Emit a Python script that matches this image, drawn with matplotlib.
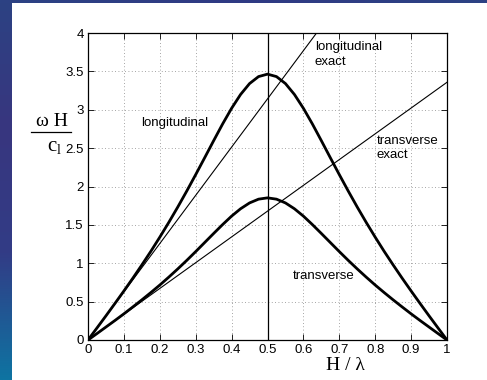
import numpy as np
import matplotlib
matplotlib.use("Agg")
import matplotlib.pyplot as plt
from matplotlib.colors import LinearSegmentedColormap

# Data
x_vals = [i * 0.025 for i in range(41)]
longitudinal_half = [0, 0.157, 0.315, 0.476, 0.639, 0.806, 0.978, 1.155, 1.340, 1.532,
                     1.732, 1.940, 2.155, 2.375, 2.597, 2.815, 3.019, 3.199, 3.341, 3.432, 3.464]
transverse_half = [0, 0.084, 0.169, 0.254, 0.341, 0.431, 0.523, 0.618, 0.716, 0.819,
                   0.926, 1.037, 1.152, 1.270, 1.388, 1.504, 1.614, 1.710, 1.786, 1.835, 1.852]
longitudinal = longitudinal_half + longitudinal_half[-2::-1]
transverse = transverse_half + transverse_half[-2::-1]
exact_x = [0, 1]
longitudinal_exact = [0, 6.283]
transverse_exact = [0, 3.358]
x_ticks = [0, 0.1, 0.2, 0.3, 0.4, 0.5, 0.6, 0.7, 0.8, 0.9, 1]
x_tick_labels = ["0", "0.1", "0.2", "0.3", "0.4", "0.5", "0.6", "0.7", "0.8", "0.9", "1"]
y_ticks = [0, 0.5, 1, 1.5, 2, 2.5, 3, 3.5, 4]
y_tick_labels = ["0", "0.5", "1", "1.5", "2", "2.5", "3", "3.5", "4"]

plt.rcParams['font.family'] = ['Liberation Sans', 'DejaVu Sans']

W, H = 487, 380
fig = plt.figure(figsize=(W / 100, H / 100), dpi=100)
fig.patch.set_facecolor('white')

# Blue decorative strips
grad = np.linspace(0, 1, 256).reshape(-1, 1)
cmap = LinearSegmentedColormap.from_list('slide', ['#2c4283', '#38367f', '#323c86', '#0e74a2'])
sax = fig.add_axes([0, 0, 12 / W, 1])
sax.imshow(grad, aspect='auto', cmap=cmap, extent=[0, 1, 0, 1], origin='upper')
sax.axis('off')
tcmap = LinearSegmentedColormap.from_list('top', ['#2c4283', '#303a84', '#2c4283'])
tax = fig.add_axes([0, 1 - 3 / H, 1, 3 / H])
tax.imshow(np.linspace(0, 1, 256).reshape(1, -1), aspect='auto', cmap=tcmap)
tax.axis('off')

ax = fig.add_axes([88 / W, 1 - 340 / H, (447 - 88) / W, (340 - 33) / H])
ax.plot(x_vals, longitudinal, color='black', lw=2.0)
ax.plot(x_vals, transverse, color='black', lw=2.0)
ax.plot(exact_x, longitudinal_exact, color='black', lw=0.8)
ax.plot(exact_x, transverse_exact, color='black', lw=0.8)
ax.axvline(0.5, color='black', lw=0.9)

ax.set_xlim(0, 1)
ax.set_ylim(0, 4)
ax.set_xticks(x_ticks)
ax.set_xticklabels(x_tick_labels)
ax.set_yticks(y_ticks)
ax.set_yticklabels(y_tick_labels)
ax.grid(True, color='#888888', linestyle=(0, (1, 3)), lw=0.6)
ax.tick_params(direction='in', top=True, right=True, length=4, width=0.6,
               labelsize=9.5, pad=3)
for s in ax.spines.values():
    s.set_linewidth(0.9)

ax.text(0.148, 2.83, 'longitudinal', fontsize=9.5, va='center', ha='left')
ax.text(0.571, 0.83, 'transverse', fontsize=9.5, va='center', ha='left')
ax.text(0.632, 3.72, 'longitudinal\nexact', fontsize=9.5, va='center', ha='left', linespacing=1.3)
ax.text(0.805, 2.5, 'transverse\nexact', fontsize=9.5, va='center', ha='left', linespacing=1.3)

serif = ['Liberation Serif', 'DejaVu Serif']
fig.text(345 / W, 1 - 366 / H, 'H / λ', fontsize=14, ha='center', va='center', family=serif)
fig.text(52 / W, 1 - 121 / H, 'ω H', fontsize=14, ha='center', va='center', family=serif)
fig.add_artist(plt.Line2D([31 / W, 71 / W], [1 - 132 / H, 1 - 132 / H], color='black', lw=0.9))
fig.text(55 / W, 1 - 147 / H, r'$\mathregular{c_l}$', fontsize=15, ha='center', va='center',
         family=serif, math_fontfamily='stix')

fig.savefig('out.png', dpi=100)
